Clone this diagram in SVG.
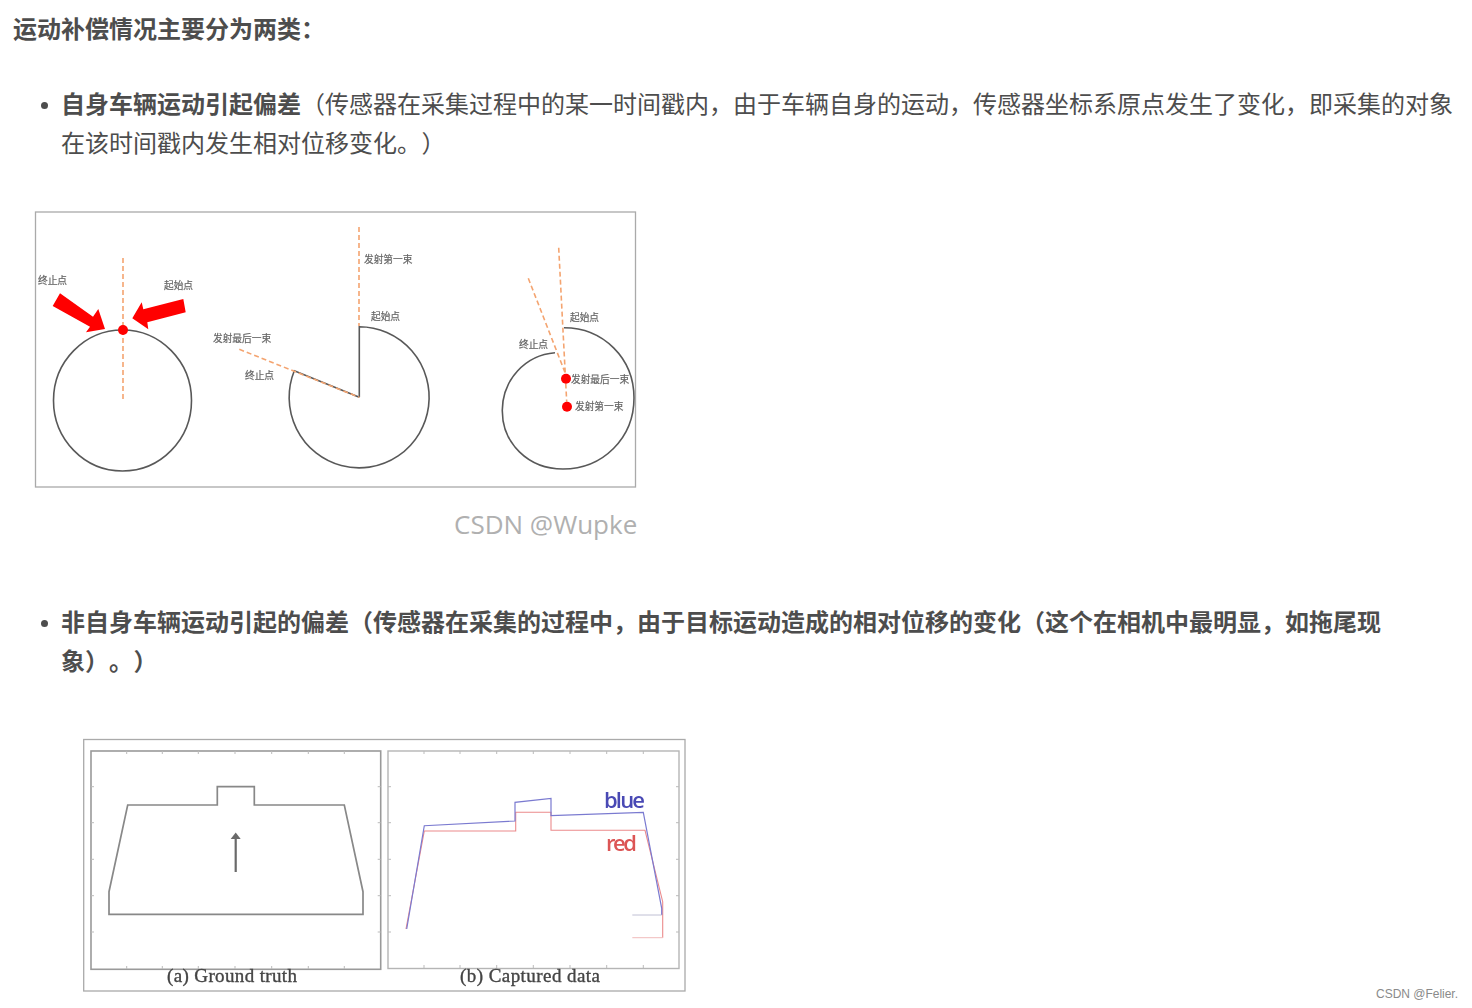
<svg xmlns="http://www.w3.org/2000/svg" width="1472" height="1008" viewBox="0 0 1472 1008" lang="zh-CN">
<style>
.t{font-family:"Noto Sans CJK SC","Noto Sans",sans-serif;font-size:24px;fill:#4d4d4d;font-feature-settings:"chws" 0,"palt" 0,"kern" 0;font-kerning:none}
.b{font-weight:700}
.s{font-family:"Noto Sans CJK SC",sans-serif;font-size:9.7px;fill:#666;stroke:#666;stroke-width:.2}
.c{font-family:"Liberation Serif",serif;font-size:19px;fill:#444;stroke:#444;stroke-width:.35}
.arc{fill:none;stroke:#595959;stroke-width:1.6}
.dash{fill:none;stroke:#f4a470;stroke-width:1.6;stroke-dasharray:5 3}
.frame{fill:#fff;stroke:#aaa;stroke-width:1.3}
.plot{fill:none;stroke:#9a9a9a;stroke-width:1.6}
.tick{fill:none;stroke:#bbb;stroke-width:1}
</style>
<defs><filter id="soft" filterUnits="userSpaceOnUse" x="0" y="200" width="720" height="800"><feGaussianBlur stdDeviation="0.7"/></filter></defs>
<rect width="1472" height="1008" fill="#fff"/>
<g id="body-text">
<text class="t b" x="13" y="37.500">运动补偿情况主要分为两类：</text>
<circle cx="44.500" cy="105.500" r="3.500" fill="#4d4d4d"/>
<text class="t" x="61" y="112.500"><tspan class="b">自身车辆运动引起偏差</tspan>（传感器在采集过程中的某一时间戳内，由于车辆自身的运动，传感器坐标系原点发生了变化，即采集的对象</text>
<text class="t" x="61" y="151.500">在该时间戳内发生相对位移变化。</text>
<text class="t" x="421.500" y="151.500">）</text>
<circle cx="44.500" cy="623.500" r="3.500" fill="#4d4d4d"/>
<text class="t b" x="61" y="630.500">非自身车辆运动引起的偏差（传感器在采集的过程中，由于目标运动造成的相对位移的变化（这个在相机中最明显，如拖尾现</text>
<text class="t b" x="61" y="669.500">象</text>
<text class="t b" x="85" y="669.500">）</text>
<text class="t b" x="109" y="669.500">。</text>
<text class="t b" x="133.500" y="669.500">）</text>
</g>
<g id="figure-1" filter="url(#soft)">
<rect class="frame" x="35.500" y="212" width="600" height="275"/>
<g id="scan-a">
<ellipse class="arc" cx="122.500" cy="400.500" rx="69" ry="70.500"/>
<path class="dash" d="M123 258V402"/>
<circle cx="123" cy="330" r="5" fill="#f00"/>
<polygon fill="#f00" points="60,293.300 52.700,306 90,326.700 86,332.300 105,329 98.300,309 93,316.700"/>
<polygon fill="#f00" points="183.300,299 185.700,312.300 147.300,322.300 148.300,329.300 132.300,318.300 141.700,302.300 143.300,309.300"/>
<text class="s" x="38" y="284">终止点</text>
<text class="s" x="164" y="289">起始点</text>
</g>
<g id="scan-b">
<path class="arc" d="M359.300 397.300V326.700A70 70.600 0 1 1 294.300 370.700L359.300 397.300"/>
<path class="dash" d="M359 227V326M239.300 349.300L359.300 397.300"/>
<text class="s" x="364" y="263">发射第一束</text>
<text class="s" x="371" y="320">起始点</text>
<text class="s" x="213" y="342">发射最后一束</text>
<text class="s" x="245" y="379">终止点</text>
</g>
<g id="scan-c">
<path class="arc" d="M564 327.700C603 327.700 634 358 634 398C634 438 603 469 563 469C528 469 502 443 502.300 410C502.600 380 525 355 555 352.700"/>
<path class="dash" d="M558.700 247.700L566.700 401.700M528.300 278.300L566 375"/>
<circle cx="566" cy="378.700" r="5" fill="#f00"/>
<circle cx="567" cy="406.700" r="5" fill="#f00"/>
<text class="s" x="570" y="321">起始点</text>
<text class="s" x="519" y="348">终止点</text>
<text class="s" x="571" y="383">发射最后一束</text>
<text class="s" x="575" y="410">发射第一束</text>
</g>
</g>
<text id="watermark-1" x="454" y="534" font-family="'Open Sans',sans-serif" font-size="26" fill="#b0b0b0">CSDN @Wupke</text>
<g id="figure-2" filter="url(#soft)">
<rect class="frame" x="83.700" y="739.500" width="601.300" height="251.500"/>
<g id="plot-a">
<rect class="plot" x="91" y="751" width="289.700" height="218.300"/>
<path class="tick" d="M126.700 751v3M162.300 751v3M198.300 751v3M235 751v3M271.700 751v3M308.300 751v3M344.300 751v3M126.700 969v-3M162.300 969v-3M198.300 969v-3M235 969v-3M271.700 969v-3M308.300 969v-3M344.300 969v-3M91 786.700h3M91 822.700h3M91 859.300h3M91 895.700h3M91 932h3M380.700 786.700h-3M380.700 822.700h-3M380.700 859.300h-3M380.700 895.700h-3M380.700 932h-3"/>
<path fill="none" stroke="#888" stroke-width="1.700" d="M109 914.300V891.700L127.700 805H217.300V786.700H254.300V805H344.300L363 891.700V914.300Z"/>
<path fill="none" stroke="#6a6a6a" stroke-width="2.200" d="M235.700 872V836"/>
<polygon fill="#6a6a6a" points="235.700,832.500 230.700,839 240.700,839"/>
<text class="c" x="167" y="982" textLength="130">(a) Ground truth</text>
</g>
<g id="plot-b">
<rect class="plot" x="388" y="751" width="291" height="217.500" style="stroke:#b5b5b5;stroke-width:1.400"/>
<path class="tick" d="M424 751v3M460 751v3M496.700 751v3M533.300 751v3M570 751v3M606.700 751v3M643.300 751v3M424 968v-3M460 968v-3M496.700 968v-3M533.300 968v-3M570 968v-3M606.700 968v-3M643.300 968v-3M388 786.700h3M388 822.700h3M388 859.300h3M388 895.700h3M388 932h3M679 786.700h-3M679 822.700h-3M679 859.300h-3M679 895.700h-3M679 932h-3"/>
<path fill="none" stroke="#ec8a8c" stroke-width="1.100" d="M406 929L424.300 831H515.700V812.300H551V830.300H645L662.700 901.700V937.700"/>
<path fill="none" stroke="#7a7ad0" stroke-width="1.200" d="M406.700 929L424.300 825.700L515 821V802.300L551 798.300V815.700L643.300 812.300L661.700 908.300V915"/>
<path fill="none" stroke="#c0c0d4" stroke-width="1" d="M661.700 915H632.300"/>
<path fill="none" stroke="#f0bcbc" stroke-width="1" d="M662.700 937.700H632.300"/>
<text x="604" y="808" font-family="'Open Sans',sans-serif" font-size="22" font-weight="600" fill="#4848b4" textLength="41">blue</text>
<text x="606" y="851" font-family="'Open Sans',sans-serif" font-size="22" font-weight="600" fill="#dc5454" textLength="31">red</text>
<text class="c" x="460" y="982" textLength="140">(b) Captured data</text>
</g>
</g>
<text id="watermark-2" x="1376" y="998" font-family="'Liberation Sans',sans-serif" font-size="12" fill="#8a8a8a" textLength="82">CSDN @Felier.</text>
</svg>
